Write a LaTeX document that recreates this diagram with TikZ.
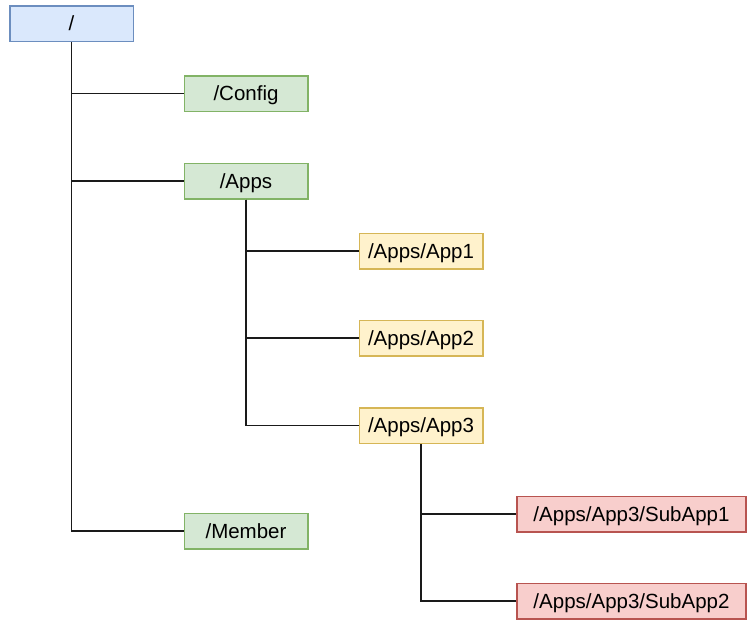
\documentclass[tikz,border=0pt]{standalone}
\usepackage{fontspec}
\setmainfont{Liberation Sans}
\definecolor{bfill}{HTML}{DAE8FC}\definecolor{bline}{HTML}{6C8EBF}
\definecolor{gfill}{HTML}{D5E8D4}\definecolor{gline}{HTML}{82B366}
\definecolor{yfill}{HTML}{FFF2CC}\definecolor{yline}{HTML}{D6B656}
\definecolor{rfill}{HTML}{F8CECC}\definecolor{rline}{HTML}{B85450}
\definecolor{edgec}{HTML}{1A1A1A}
\tikzset{
  box/.style={draw, line width=1.5pt, inner sep=0pt, minimum width=123.5pt, minimum height=35.5pt,
    text height=15.5pt, text depth=1.5pt,
    font=\fontsize{20.5}{24}\selectfont, anchor=center},
  bbox/.style={box, fill=bfill, draw=bline},
  gbox/.style={box, fill=gfill, draw=gline},
  ybox/.style={box, fill=yfill, draw=yline},
  rbox/.style={box, fill=rfill, draw=rline, minimum width=229pt},
  conn/.style={draw=edgec, line width=1.8pt}
}
\begin{document}
\begin{tikzpicture}[x=1pt,y=-1pt]
\useasboundingbox (0,0) rectangle (750,627);
\node[bbox] (root) at (71.5,23.5) {/};
\node[gbox] (config) at (246,93.5) {/Config};
\node[gbox] (apps) at (246,181) {/Apps};
\node[gbox] (member) at (246,531) {/Member};
\node[ybox] (app1) at (421,251) {/Apps/App1};
\node[ybox] (app2) at (421,338) {/Apps/App2};
\node[ybox] (app3) at (421,425.5) {/Apps/App3};
\node[rbox] (sub1) at (631.5,514) {/Apps/App3/SubApp1};
\node[rbox] (sub2) at (631.5,601) {/Apps/App3/SubApp2};
\draw[conn] (root.south) |- (config.west);
\draw[conn] (root.south) |- (apps.west);
\draw[conn] (root.south) |- (member.west);
\draw[conn] (apps.south) |- (app1.west);
\draw[conn] (apps.south) |- (app2.west);
\draw[conn] (apps.south) |- (app3.west);
\draw[conn] (app3.south) |- (sub1.west);
\draw[conn] (app3.south) |- (sub2.west);
\end{tikzpicture}
\end{document}
